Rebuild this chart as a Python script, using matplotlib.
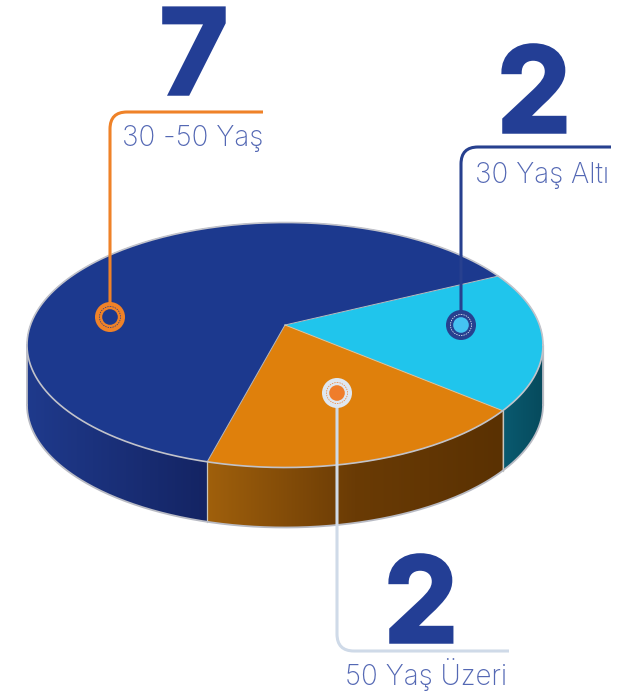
import numpy as np
import matplotlib
matplotlib.use('Agg')
import matplotlib.pyplot as plt
from matplotlib.path import Path
from matplotlib.patches import PathPatch, Circle, Polygon
from matplotlib.colors import LinearSegmentedColormap
import matplotlib.patheffects as pe

plt.rcParams['font.family'] = ['Inter', 'DejaVu Sans']

# age groups, clockwise from the right hand side
groups = ['30 Yaş Altı', '50 Yaş Üzeri', '30 -50 Yaş']
counts = [2, 2, 7]
top_colors = ['#20c5ec', '#df800c', '#1c398e']
side_colors = [['#0a5a70', '#064a5c'],
               ['#a0600c', '#6a3b05', '#5a3102'],
               ['#1f3a8c', '#142463']]

# pie drawn in pixel coordinates
CX, CY, RX, RY = 285, 345, 258, 122.5
DEPTH = 60
APEX_Y = 325
START_ANGLE = 25.8


def rim_angle(deg):
    # where a ray from the apex hits the rim, as angle on the unit circle
    h = (CY - APEX_Y) / RY
    d = np.array([np.cos(np.radians(deg)), np.sin(np.radians(deg))])
    b = h * d[1]
    t = -b + np.sqrt(b ** 2 - (h ** 2 - 1))
    return np.degrees(np.arctan2(h + t * d[1], t * d[0]))


def rim(a0, a1, dy=0, n=120):
    a = np.radians(np.linspace(a0, a1, n))
    return np.column_stack([CX + RX * np.cos(a), CY + dy - RY * np.sin(a)])


fig = plt.figure(figsize=(6.17, 6.95), dpi=100)
ax = fig.add_axes([0, 0, 1, 1])
ax.set_xlim(0, 617)
ax.set_ylim(695, 0)
ax.axis('off')

# slice limits from the counts
shares = np.array(counts) / sum(counts) * 360
rays = START_ANGLE - np.concatenate([[0], np.cumsum(shares)])
limits = []
for i in range(len(counts)):
    a0 = rim_angle(rays[i])
    a1 = rim_angle(rays[i + 1])
    while a1 > a0:
        a1 -= 360
    limits.append((a0, a1))

# side wall, only the part facing the viewer
for i, (a0, a1) in enumerate(limits):
    lo = max(a1, -180)
    hi = min(a0, 0)
    if hi <= lo:
        continue
    up = rim(hi, lo)
    down = rim(lo, hi, DEPTH)
    poly = np.vstack([up, down])
    xs = poly[:, 0]
    cmap = LinearSegmentedColormap.from_list('side%d' % i, side_colors[i])
    grad = np.linspace(0, 1, 256).reshape(1, -1)
    im = ax.imshow(grad, cmap=cmap, aspect='auto', zorder=1,
                   extent=[xs.min(), xs.max(), poly[:, 1].max(), poly[:, 1].min()])
    clip = Polygon(poly, closed=True, transform=ax.transData, fc='none', ec='none')
    ax.add_patch(clip)
    im.set_clip_path(clip)
    ax.plot([up[0, 0], up[0, 0]], [up[0, 1], up[0, 1] + DEPTH], color='#c9c6bd', lw=0.9, zorder=2)
ax.set_xlim(0, 617)
ax.set_ylim(695, 0)

# outer edge of the wall
edge = rim(-180, 0, DEPTH, 300)
ax.plot(edge[:, 0], edge[:, 1], color='#b9bbc4', lw=1.3, zorder=2)
ax.plot([CX - RX, CX - RX], [CY, CY + DEPTH], color='#b9bbc4', lw=1.3, zorder=2)
ax.plot([CX + RX, CX + RX], [CY, CY + DEPTH], color='#b9bbc4', lw=1.3, zorder=2)

# top face
for i, (a0, a1) in enumerate(limits):
    pts = np.vstack([[CX, APEX_Y], rim(a0, a1)])
    ax.add_patch(Polygon(pts, closed=True, fc=top_colors[i], ec=top_colors[i], lw=0.3, zorder=3))
    ax.plot([CX, pts[1, 0]], [APEX_Y, pts[1, 1]], color='#d8d3c4', lw=0.7, alpha=0.8, zorder=4)
outline = rim(0, 360, 0, 400)
ax.plot(outline[:, 0], outline[:, 1], color='#c2c3ca', lw=1.2, zorder=4)


def leader(x0, y0, y1, x1, color):
    # vertical run with one rounded corner, then horizontal
    r = 17 if y1 < y0 else -17
    verts = [(x0, y0), (x0, y1 + r), (x0, y1), (x0 + abs(r), y1), (x1, y1)]
    codes = [Path.MOVETO, Path.LINETO, Path.CURVE3, Path.CURVE3, Path.LINETO]
    ax.add_patch(PathPatch(Path(verts, codes), fc='none', ec=color, lw=2.2, zorder=5,
                           capstyle='butt'))


def marker(x, y, outer, hole, dash):
    ax.add_patch(Circle((x, y), 15, fc=outer, ec='none', zorder=6))
    ax.add_patch(Circle((x, y), 10.5, fc='none', ec=dash, lw=0.5, ls=(0, (2, 1.5)), zorder=7))
    ax.add_patch(Circle((x, y), 7.8, fc=hole, ec='none', zorder=7))


leader(110, 317, 112, 263, '#ef8228')
leader(461, 325, 147, 611, '#27408f')
leader(337, 393, 651, 509, '#cfdae8')
marker(110, 317, '#ef8228', '#1c398e', '#1c398e')
marker(461, 325, '#27408f', '#45c3f2', '#ffffff')
marker(337, 393, '#dfe7f1', '#ef7d2b', '#ef7d2b')

# big numbers and their captions
num_pos = [(534, 132), (421, 642), (194, 94)]
cap_pos = [(475, 183), (345, 685), (122, 146)]
for i in range(len(counts)):
    ax.text(num_pos[i][0], num_pos[i][1], str(counts[i]), ha='center', va='baseline',
            fontsize=85, fontweight='bold', color='#233e95', zorder=8,
            path_effects=[pe.withStroke(linewidth=2.5, foreground='#233e95', joinstyle='miter')])
    ax.text(cap_pos[i][0], cap_pos[i][1], groups[i], ha='left', va='baseline',
            fontsize=20, fontweight='light', color='#5468b4', zorder=8)

fig.savefig('out.png', dpi=100)
